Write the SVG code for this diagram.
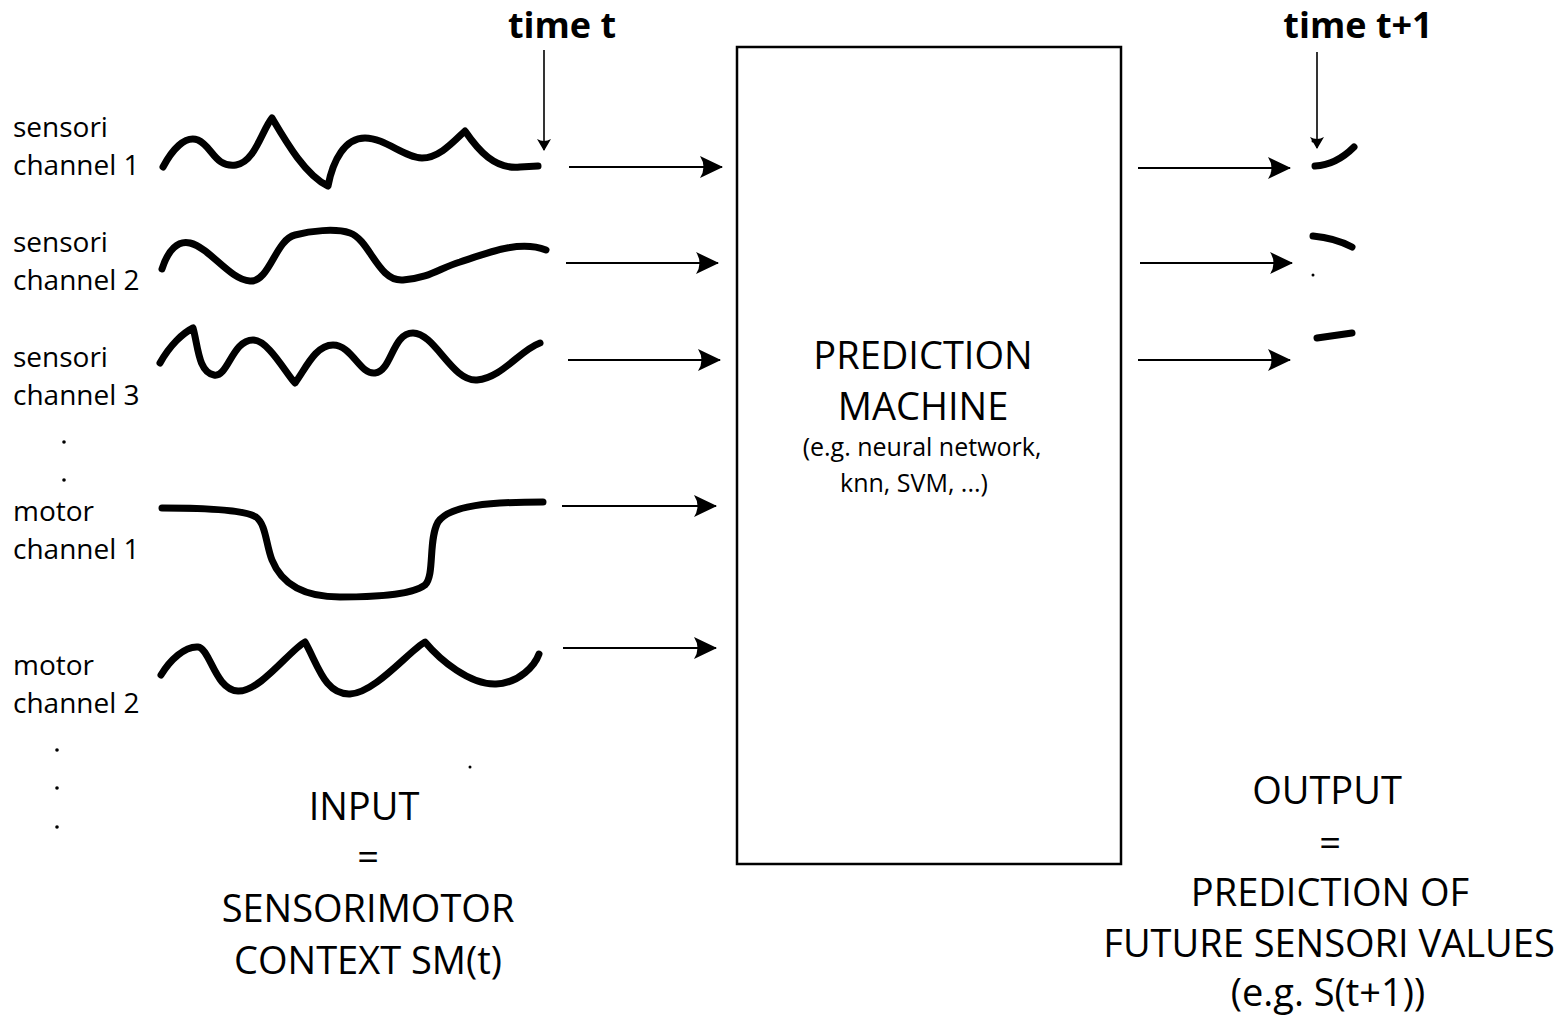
<svg xmlns="http://www.w3.org/2000/svg" width="1564" height="1016" viewBox="0 0 1564 1016">
<style>
text{font-family:"Open Sans","Noto Sans","DejaVu Sans",sans-serif;fill:#000}
.lbl{font-size:28px}
.big{font-size:38px;text-anchor:middle}
.mid{font-size:38px;text-anchor:middle}
.sm{font-size:25px;text-anchor:middle}
.bold{font-size:36px;font-weight:bold;text-anchor:middle}
.wave{fill:none;stroke:#000;stroke-width:7;stroke-linecap:round;stroke-linejoin:round}
.arr{fill:none;stroke:#000;stroke-width:2.2;marker-end:url(#ah)}
.tarr{fill:none;stroke:#000;stroke-width:1.6;marker-end:url(#th)}
</style>
<defs>
<marker id="ah" viewBox="0 0 24 24" refX="23" refY="12" markerWidth="24" markerHeight="24" markerUnits="userSpaceOnUse" orient="auto">
<path d="M24,12 L1,1 Q8,12 1,23 Z" fill="#000"/>
</marker>
<marker id="th" viewBox="0 0 12 16" refX="11" refY="8" markerWidth="12" markerHeight="16" markerUnits="userSpaceOnUse" orient="auto">
<path d="M12,8 L0,1 Q4,8 0,15 Z" fill="#000"/>
</marker>
</defs>
<rect width="1564" height="1016" fill="#fff"/>

<g id="labels">
<text class="lbl" x="13" y="137">sensori</text>
<text class="lbl" x="13" y="175">channel 1</text>
<text class="lbl" x="13" y="252">sensori</text>
<text class="lbl" x="13" y="290">channel 2</text>
<text class="lbl" x="13" y="367">sensori</text>
<text class="lbl" x="13" y="405">channel 3</text>
<text class="lbl" x="13" y="521">motor</text>
<text class="lbl" x="13" y="559">channel 1</text>
<text class="lbl" x="13" y="675">motor</text>
<text class="lbl" x="13" y="713">channel 2</text>
<circle cx="64" cy="442" r="1.8"/>
<circle cx="64" cy="480" r="1.8"/>
<circle cx="57" cy="750" r="1.8"/>
<circle cx="57" cy="788" r="1.8"/>
<circle cx="57" cy="827" r="1.8"/>
<circle cx="470" cy="767" r="1.5"/>
</g>

<g id="signals">
<path class="wave" d="M163,167 C172,150 185,135 198,140 C212,146 215,168 236,165 C255,162 262,130 272,118 C285,140 305,175 328,186 C333,160 345,138 365,138 C385,138 405,158 422,158 C440,158 455,140 465,131 C478,150 495,170 520,167 L538,166"/>
<path class="wave" d="M162,269 C168,250 178,240 190,243 C210,248 230,280 250,281 C270,282 275,240 295,235 C310,231 335,228 350,233 C370,240 378,282 403,280 C430,278 440,268 460,262 C490,252 520,240 546,250"/>
<path class="wave" d="M160,363 C170,345 183,333 193,328 C198,345 198,372 214,375 C228,378 232,340 253,340 C268,340 285,372 295,383 C305,370 315,345 333,345 C352,345 360,375 375,373 C392,371 392,333 413,333 C435,333 452,382 477,380 C502,378 520,350 540,343"/>
<path class="wave" d="M162,508 C200,508 245,510 256,517 C266,524 266,545 272,560 C282,585 305,597 340,597 C370,597 410,596 425,585 C435,575 428,540 438,522 C450,505 490,502 543,502"/>
<path class="wave" d="M161,675 C170,660 185,646 198,647 C210,648 215,690 238,691 C260,692 290,650 305,642 C318,665 325,695 350,694 C375,693 410,650 425,642 C440,660 470,685 496,684 C520,683 535,665 539,654"/>
</g>

<g id="time-t">
<text class="bold" x="562" y="38">time t</text>
</g>
<g id="time-t1">
<text class="bold" x="1358" y="38">time t+1</text>
</g>

<g id="prediction-machine">
<rect x="737" y="47" width="384" height="817" fill="none" stroke="#000" stroke-width="2.5"/>
<text class="mid" x="923" y="369">PREDICTION</text>
<text class="mid" x="923" y="420">MACHINE</text>
<text class="sm" x="922" y="456">(e.g. neural network,</text>
<text class="sm" x="914" y="492">knn, SVM, ...)</text>
</g>

<g id="outputs">
<path class="wave" d="M1315,166 Q1336,165 1354,147"/>
<path class="wave" d="M1313,236 Q1335,238 1352,247"/>
<path class="wave" d="M1317,338 L1352,333"/>
<circle cx="1313" cy="141" r="1.5"/>
<circle cx="1313" cy="275" r="1.5"/>
</g>

<g id="input-text">
<text class="big" x="364" y="820">INPUT</text>
<text class="big" x="368" y="870">=</text>
<text class="big" x="368" y="922">SENSORIMOTOR</text>
<text class="big" x="368" y="974">CONTEXT SM(t)</text>
</g>

<g id="output-text">
<text class="big" x="1327" y="804">OUTPUT</text>
<text class="big" x="1330" y="856">=</text>
<text class="big" x="1330" y="906">PREDICTION OF</text>
<text class="big" x="1329" y="957">FUTURE SENSORI VALUES</text>
<text class="big" x="1328" y="1006">(e.g. S(t+1))</text>
</g>

<g id="connectors">
<line class="tarr" x1="544" y1="50" x2="544" y2="150"/>
<line class="tarr" x1="1317" y1="52" x2="1317" y2="148"/>
<line class="arr" x1="569" y1="167" x2="722" y2="167"/>
<line class="arr" x1="566" y1="263" x2="718" y2="263"/>
<line class="arr" x1="568" y1="360" x2="720" y2="360"/>
<line class="arr" x1="562" y1="506" x2="716" y2="506"/>
<line class="arr" x1="563" y1="648" x2="716" y2="648"/>
<line class="arr" x1="1138" y1="168" x2="1290" y2="168"/>
<line class="arr" x1="1140" y1="263" x2="1292" y2="263"/>
<line class="arr" x1="1138" y1="360" x2="1290" y2="360"/>
</g>
</svg>
